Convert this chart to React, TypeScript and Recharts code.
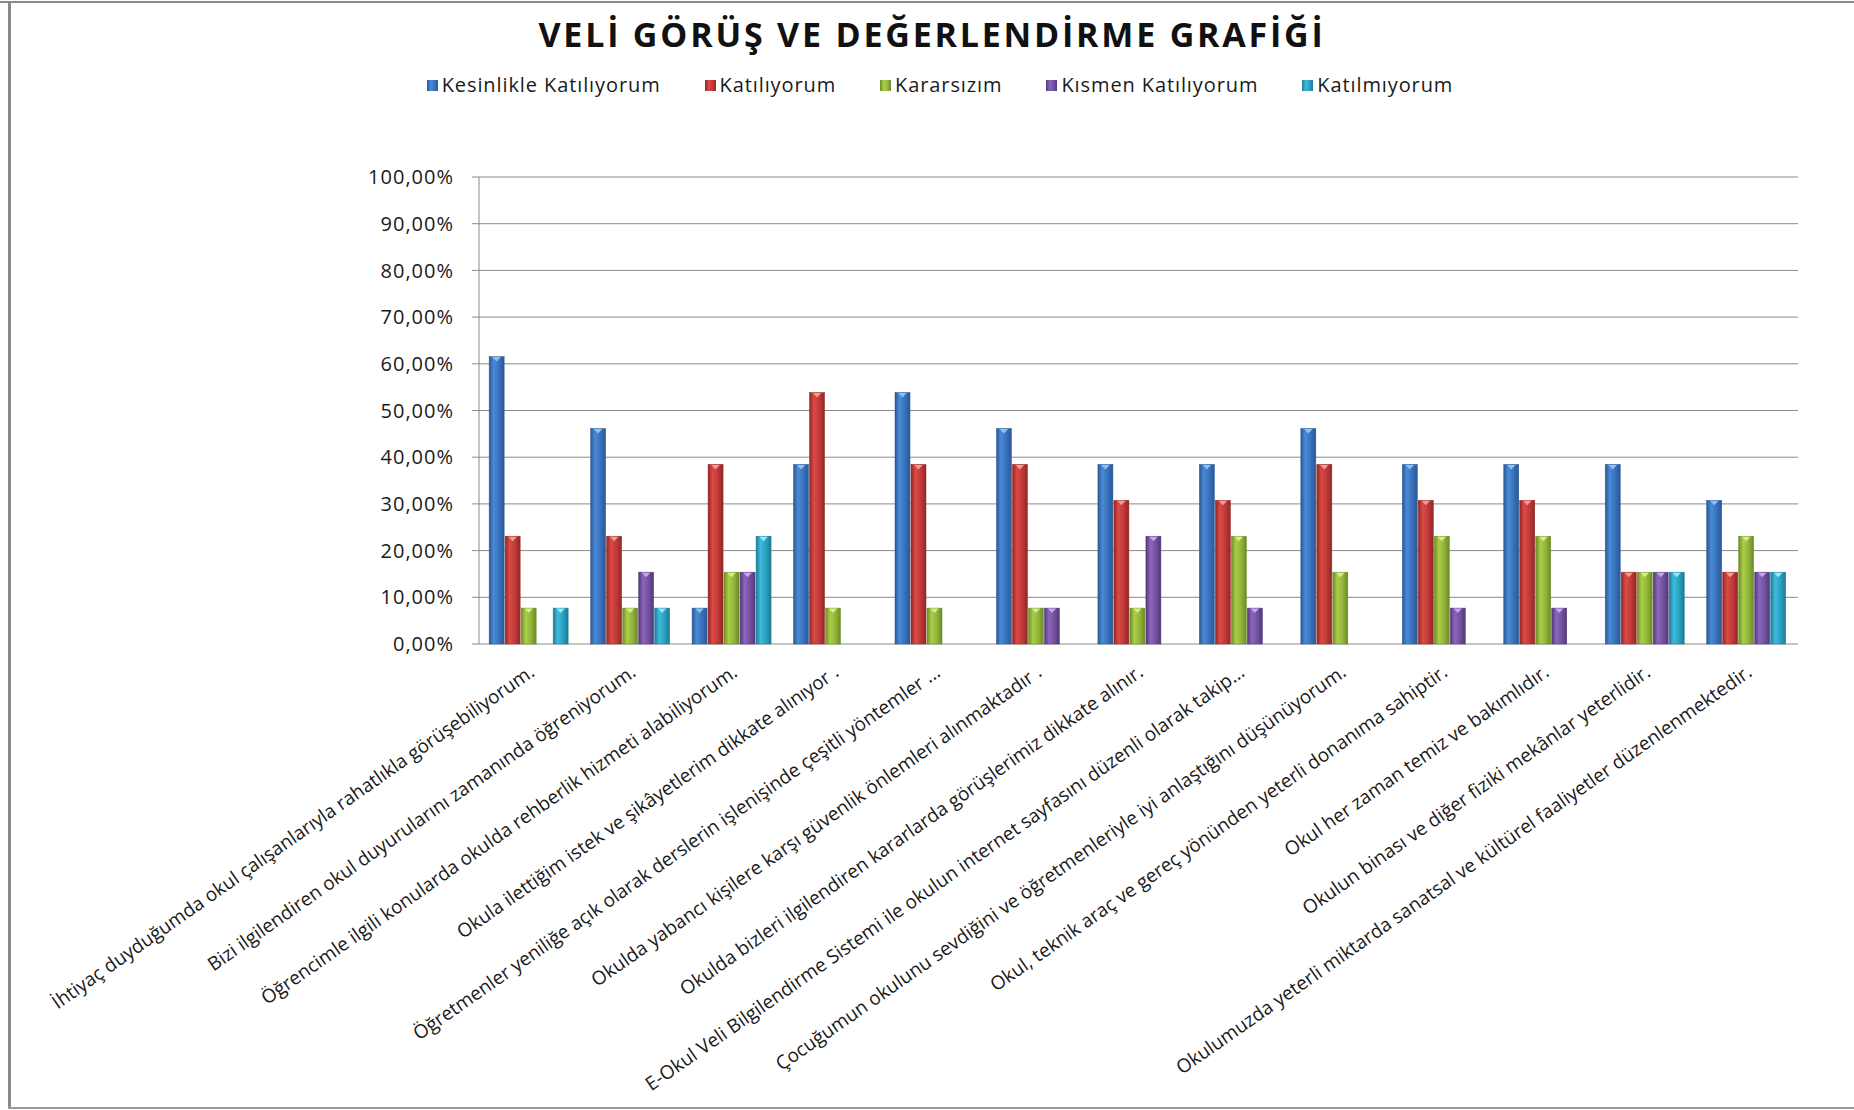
import { BarChart, Bar, XAxis, YAxis, CartesianGrid, Legend } from 'recharts';

const categories = [
  'İhtiyaç duyduğumda okul çalışanlarıyla rahatlıkla görüşebiliyorum.',
  'Bizi ilgilendiren okul duyurularını zamanında öğreniyorum.',
  'Öğrencimle ilgili konularda okulda rehberlik hizmeti alabiliyorum.',
  'Okula ilettiğim istek ve şikâyetlerim dikkate alınıyor .',
  'Öğretmenler yeniliğe açık olarak derslerin işlenişinde çeşitli yöntemler ...',
  'Okulda yabancı kişilere karşı güvenlik önlemleri alınmaktadır .',
  'Okulda bizleri ilgilendiren kararlarda görüşlerimiz dikkate alınır.',
  'E-Okul Veli Bilgilendirme Sistemi ile okulun internet sayfasını düzenli olarak takip...',
  'Çocuğumun okulunu sevdiğini ve öğretmenleriyle iyi anlaştığını düşünüyorum.',
  'Okul, teknik araç ve gereç yönünden yeterli donanıma sahiptir.',
  'Okul her zaman temiz ve bakımlıdır.',
  'Okulun binası ve diğer fiziki mekânlar yeterlidir.',
  'Okulumuzda yeterli miktarda sanatsal ve kültürel faaliyetler düzenlenmektedir.',
];

const kesinlikle = [61.54, 46.15, 7.69, 38.46, 53.85, 46.15, 38.46, 38.46, 46.15, 38.46, 38.46, 38.46, 30.77];
const katiliyorum = [23.08, 23.08, 38.46, 53.85, 38.46, 38.46, 30.77, 30.77, 38.46, 30.77, 30.77, 15.38, 15.38];
const kararsizim = [7.69, 7.69, 15.38, 7.69, 7.69, 7.69, 7.69, 23.08, 15.38, 23.08, 23.08, 15.38, 23.08];
const kismen = [0, 15.38, 15.38, 0, 0, 7.69, 23.08, 7.69, 0, 7.69, 7.69, 15.38, 15.38];
const katilmiyorum = [7.69, 7.69, 23.08, 0, 0, 0, 0, 0, 0, 0, 0, 15.38, 15.38];

const yTicks = [0, 10, 20, 30, 40, 50, 60, 70, 80, 90, 100];
const edgeTicks = [0, 1, 2, 3, 4, 5, 6, 7, 8, 9, 10, 11, 12, 13];

const series = [
  { key: 'k1', name: 'Kesinlikle Katılıyorum', values: kesinlikle, dark: '#2a5894', light: '#4a8ad6', base: '#3872bd', top: '#8fc0f0' },
  { key: 'k2', name: 'Katılıyorum', values: katiliyorum, dark: '#922725', light: '#dc4a46', base: '#c03a38', top: '#f29a96' },
  { key: 'k3', name: 'Kararsızım', values: kararsizim, dark: '#6c8b26', light: '#abce48', base: '#93b53b', top: '#d6ec8e' },
  { key: 'k4', name: 'Kısmen Katılıyorum', values: kismen, dark: '#52387a', light: '#8c66bb', base: '#7352a0', top: '#c4a8e8' },
  { key: 'k5', name: 'Katılmıyorum', values: katilmiyorum, dark: '#1c7b95', light: '#3ebbdc', base: '#2aa1c1', top: '#9ae6f8' },
];

const data = categories.map((name, i) => {
  const row: any = { name };
  series.forEach((s) => (row[s.key] = s.values[i]));
  return row;
});

const FONT = '"Open Sans", "DejaVu Sans", sans-serif';
const LEGEND_H = 26;

function GelBar(props: any) {
  const { x, y, width, height, s } = props;
  if (!height || height <= 0) return null;
  const cx = x + width / 2;
  return (
    <g>
      <rect x={x} y={y} width={width} height={height} fill={`url(#grad-${s.key})`} stroke={s.dark} strokeWidth={0.5} />
      <polygon
        points={`${x + width * 0.22},${y + 0.5} ${x + width * 0.78},${y + 0.5} ${cx},${y + 5}`}
        fill={s.top}
      />
    </g>
  );
}

function CatTick(props: any) {
  const { x, y, payload } = props;
  const tx = x + 6;
  const ty = y + 31;
  return (
    <text
      x={tx}
      y={ty}
      transform={`rotate(-35, ${tx}, ${ty})`}
      textAnchor="end"
      fontFamily={FONT}
      fontSize={19}
      fill="#1a1a1a"
    >
      {payload.value}
    </text>
  );
}

function LegendContent() {
  return (
    <div
      style={{
        display: 'flex',
        justifyContent: 'center',
        gap: 44,
        fontFamily: FONT,
        fontSize: 20,
        letterSpacing: 0.9,
        lineHeight: `${LEGEND_H}px`,
        height: LEGEND_H,
        color: '#1a1a1a',
        paddingLeft: 26,
      }}
    >
      {series.map((s) => (
        <div key={s.key} style={{ display: 'flex', alignItems: 'center', gap: 4 }}>
          <span
            style={{
              width: 11,
              height: 11,
              display: 'inline-block',
              background: `linear-gradient(to right, ${s.dark}, ${s.light} 35%, ${s.base} 70%, ${s.dark})`,
            }}
          />
          <span>{s.name}</span>
        </div>
      ))}
    </div>
  );
}

export default function App() {
  return (
    <div style={{ position: 'absolute', left: 0, top: 0, width: 1854, height: 1110, background: '#fff', overflow: 'hidden' }}>
      <div style={{ position: 'absolute', left: 0, top: 1, width: 1854, height: 2, background: '#8a8a8a' }} />
      <div style={{ position: 'absolute', left: 8, top: 1, width: 3, height: 1108, background: '#8a8a8a' }} />
      <div style={{ position: 'absolute', left: 8, top: 1107, width: 1846, height: 2, background: '#9a9a9a' }} />

      <div
        style={{
          position: 'absolute',
          left: 0,
          top: 17,
          width: 1864,
          textAlign: 'center',
          fontFamily: FONT,
          fontWeight: 700,
          fontSize: 34,
          lineHeight: 1,
          letterSpacing: 2.8,
          color: '#111',
        }}
      >
        VELİ GÖRÜŞ VE DEĞERLENDİRME GRAFİĞİ
      </div>

      <BarChart
        width={1854}
        height={1110}
        data={data}
        margin={{ top: 177 - LEGEND_H, right: 56, bottom: 0, left: 0 }}
        barCategoryGap="10%"
        barGap={1}
      >
        <defs>
          {series.map((s) => (
            <linearGradient key={s.key} id={`grad-${s.key}`} x1="0" y1="0" x2="1" y2="0">
              <stop offset="0%" stopColor={s.dark} />
              <stop offset="30%" stopColor={s.light} />
              <stop offset="65%" stopColor={s.base} />
              <stop offset="100%" stopColor={s.dark} />
            </linearGradient>
          ))}
        </defs>
        <CartesianGrid vertical={false} stroke="#8a8a8a" xAxisId="cat" />
        <XAxis
          xAxisId="edge"
          type="number"
          domain={[0, 13]}
          ticks={edgeTicks}
          height={0}
          tickSize={7}
          tickFormatter={() => ''}
          stroke="#8a8a8a"
          axisLine={{ stroke: '#8a8a8a' }}
          tickLine={{ stroke: '#8a8a8a' }}
        />
        <XAxis
          xAxisId="cat"
          dataKey="name"
          interval={0}
          height={466}
          axisLine={false}
          tickLine={false}
          tickSize={0}
          tickMargin={0}
          tick={<CatTick />}
        />
        <YAxis
          width={479}
          domain={[0, 100]}
          ticks={yTicks}
          tickSize={7}
          tickMargin={18}
          axisLine={{ stroke: '#8a8a8a' }}
          tickLine={{ stroke: '#8a8a8a' }}
          tickFormatter={(v: number) => v.toFixed(2).replace('.', ',') + '%'}
          tick={{ fontFamily: FONT, fontSize: 20, fill: '#1a1a1a', style: { letterSpacing: 1 } }}
        />
        <Legend
          verticalAlign="top"
          content={<LegendContent />}
          wrapperStyle={{ top: 72, left: 0, width: 1854, height: LEGEND_H }}
        />
        {series.map((s) => (
          <Bar
            key={s.key}
            xAxisId="cat"
            dataKey={s.key}
            name={s.name}
            isAnimationActive={false}
            shape={(p: any) => <GelBar {...p} s={s} />}
          />
        ))}
      </BarChart>
    </div>
  );
}
